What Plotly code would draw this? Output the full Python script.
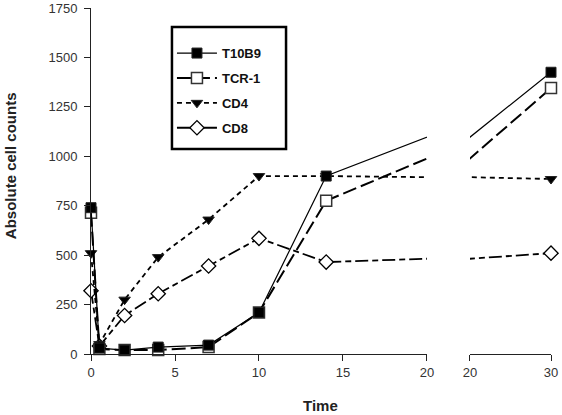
import plotly.graph_objects as go

# ---- data ----
times = [0, 0.5, 2, 4, 7, 10, 14, 30]
t10b9 = [740, 30, 20, 35, 45, 210, 900, 1425]
tcr1 = [715, 25, 20, 20, 35, 210, 775, 1345]
cd4 = [510, 50, 275, 490, 680, 900, 900, 885]
cd8 = [320, 40, 195, 305, 445, 585, 465, 510]

left_ticks = [0, 5, 10, 15, 20]
right_ticks = [20, 30]
y_ticks = [0, 250, 500, 750, 1000, 1250, 1500, 1750]

FONT = "Liberation Sans, Arial, sans-serif"

series = [
    # name, values, symbol, size, fill, dash, width, legend rank
    ("CD8", cd8, "diamond-open", 11, None, "13px,4px,6px,4px", 1.8, 4),
    ("CD4", cd4, "triangle-down", 10, "black", "5px,4px", 1.8, 3),
    ("TCR-1", tcr1, "square", 11, "white", "14px,5px", 2.0, 2),
    ("T10B9", t10b9, "square", 10, "black", "solid", 1.2, 1),
]

fig = go.Figure()
for name, vals, sym, size, fill, dash, width, rank in series:
    if sym == "diamond-open":
        marker = dict(symbol="diamond", size=size, color="white",
                      line=dict(color="black", width=1.3))
    elif fill == "white":
        marker = dict(symbol=sym, size=size, color="white",
                      line=dict(color="#333", width=1.5))
    else:
        marker = dict(symbol=sym, size=size, color="black",
                      line=dict(color="#222", width=1))
    for xa, ya, show in (("x", "y", True), ("x2", "y2", False)):
        fig.add_trace(go.Scatter(
            x=times, y=vals, mode="lines+markers", name=name,
            xaxis=xa, yaxis=ya, showlegend=show, legendgroup=name,
            legendrank=rank, cliponaxis=False,
            line=dict(color="black", width=width, dash=dash),
            marker=marker,
        ))

axis_common = dict(showgrid=False, zeroline=False, showline=True,
                   linecolor="#222", linewidth=1, ticks="outside",
                   ticklen=6, tickcolor="#222", automargin=False,
                   tickfont=dict(family=FONT, size=13, color="#333"))

fig.update_layout(
    width=562, height=415,
    margin=dict(l=91, r=11, t=8, b=61),
    paper_bgcolor="white", plot_bgcolor="white",
    showlegend=True,
    font=dict(family=FONT, color="#222"),
    xaxis=dict(domain=[0, 0.7304], range=[0, 20], tickvals=left_ticks,
               anchor="y", **axis_common),
    xaxis2=dict(domain=[0.8239, 1], range=[20, 30], tickvals=right_ticks,
                anchor="y2", **axis_common),
    yaxis=dict(range=[0, 1750], tickvals=y_ticks, anchor="x",
               ticklabelstandoff=4, **axis_common),
    yaxis2=dict(range=[0, 1750], anchor="x2", visible=False),
    legend=dict(x=0.176, y=0.913, xanchor="left", yanchor="top",
                bgcolor="rgba(0,0,0,0)", borderwidth=0,
                font=dict(family=FONT, size=13, color="#111", weight="bold"),
                itemwidth=40, tracegroupgap=5, traceorder="grouped"),
    shapes=[
        dict(type="rect", xref="paper", yref="paper",
             x0=0.176, x1=0.424, y0=0.5925, y1=0.945,
             line=dict(color="black", width=2.5), fillcolor="white",
             layer="above"),
    ],
    annotations=[
        dict(text="<b>Time</b>", xref="paper", yref="paper", x=0.498,
             y=-0.150, xanchor="center", yanchor="middle", showarrow=False,
             font=dict(family=FONT, size=15, color="#222")),
        dict(text="<b>Absolute cell counts</b>", xref="paper", yref="paper",
             x=-0.176, y=0.543, xanchor="center", yanchor="middle",
             textangle=-90, showarrow=False,
             font=dict(family=FONT, size=15, color="#222")),
    ],
)

fig.write_html(
    "out.html",
    config={"displayModeBar": False},
    post_script="document.body.style.margin='0';document.body.style.padding='0';"
                "document.documentElement.style.overflow='hidden';",
)
